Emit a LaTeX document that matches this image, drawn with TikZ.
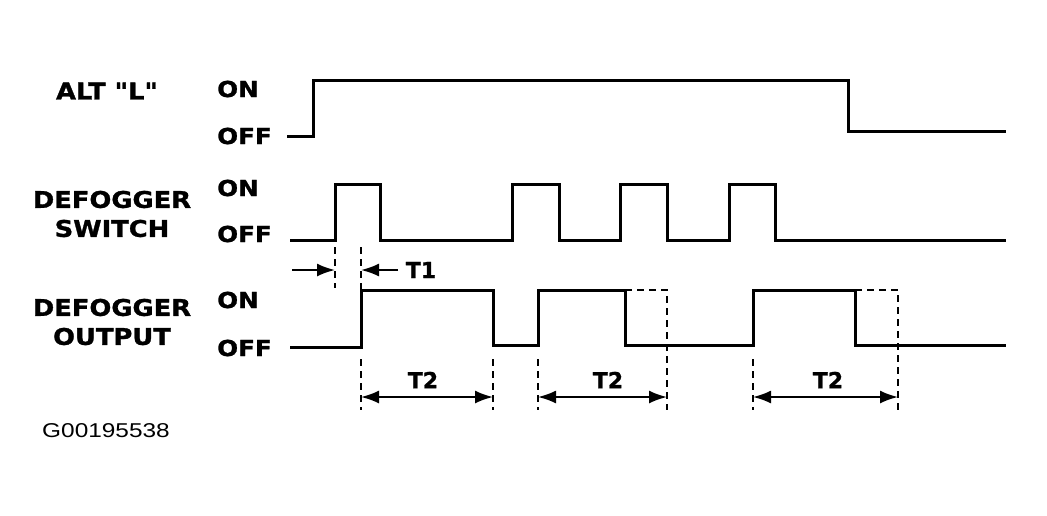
\documentclass[tikz,border=0pt]{standalone}
\usepackage{fontspec}
\usetikzlibrary{arrows.meta, positioning}
\newfontfamily\namefont[FakeStretch=1.12, FakeBold=1.2]{DejaVu Sans Bold}
\newfontfamily\markfont[FakeBold=1.2]{DejaVu Sans Bold}
\newfontfamily\codefont[FakeStretch=1.22]{Liberation Sans}
\tikzset{
    signame/.style={
        inner sep=0pt, align=center,
        font=\namefont\fontsize{23}{29}\selectfont
    },
    level/.style={
        inner sep=0pt, anchor=west,
        font=\namefont\fontsize{22}{24}\selectfont
    },
    timelabel/.style={inner sep=0pt, font=\markfont\fontsize{22}{24}\selectfont},
    wave/.style={line width=3pt, line join=miter},
    guide/.style={line width=1.6pt, dash pattern=on 7pt off 5pt},
    dimarrow/.style={line width=2pt, {Latex[length=18pt,width=13pt]}-{Latex[length=18pt,width=13pt]}},
    onearrow/.style={line width=2pt, -{Latex[length=18pt,width=13pt]}}
}
\begin{document}
\begin{tikzpicture}[x=1pt, y=-1pt]
    \useasboundingbox (0,0) rectangle (1047,515);

    % signal names and levels
    \node[signame] (alt) at (107,91) {ALT "L"};
    \node[signame] (sw) at (112,214) {DEFOGGER\\SWITCH};
    \node[signame] (out) at (112,322) {DEFOGGER\\OUTPUT};
    \node[level] (alt-on) at (217,89) {ON};
    \node[level] (alt-off) at (217,136) {OFF};
    \node[level] (sw-on) at (217,188) {ON};
    \node[level] (sw-off) at (217,234) {OFF};
    \node[level] (out-on) at (217,300) {ON};
    \node[level] (out-off) at (217,348) {OFF};

    % waveforms
    \draw[wave] (287,136) -| (313,80) -| (848,131) -- (1006,131);
    \draw[wave] (290,240) -| (335,184) -| (380,240) -| (512,184) -| (559,240)
        -| (620,184) -| (667,240) -| (729,184) -| (775,240) -- (1006,240);
    \draw[wave] (290,347) -| (361,290) -| (493,345) -| (538,290) -| (625,345)
        -| (753,290) -| (855,345) -- (1006,345);

    % timer extensions
    \draw[guide] (625,290) -- (667,290) -- (667,410);
    \draw[guide] (855,290) -- (898,290) -- (898,410);

    % T1
    \draw[guide] (335,247) -- (335,288);
    \draw[guide] (361,247) -- (361,290);
    \coordinate (t1-l) at (335,270);
    \coordinate (t1-r) at (361,270);
    \coordinate (t1-a) at (292,270);
    \coordinate (t1-b) at (398,270);
    \draw[onearrow] (t1-a) -- (t1-l);
    \draw[onearrow] (t1-b) -- (t1-r);
    \node[timelabel] (t1) at (421,270) {T1};

    % T2
    \foreach \x in {361,493,538,753} {
        \draw[guide] (\x,359) -- (\x,410);
    }
    \coordinate (t2a-l) at (361,397);
    \coordinate (t2a-r) at (493,397);
    \coordinate (t2b-l) at (538,397);
    \coordinate (t2b-r) at (667,397);
    \coordinate (t2c-l) at (753,397);
    \coordinate (t2c-r) at (898,397);
    \draw[dimarrow] (t2a-l) -- (t2a-r);
    \draw[dimarrow] (t2b-l) -- (t2b-r);
    \draw[dimarrow] (t2c-l) -- (t2c-r);
    \node[timelabel] (t2a) at (423,380) {T2};
    \node[timelabel] (t2b) at (608,380) {T2};
    \node[timelabel] (t2c) at (828,380) {T2};

    \node[inner sep=0pt, anchor=west, font=\codefont\fontsize{20}{22}\selectfont] (code) at (42,431) {G00195538};
\end{tikzpicture}
\end{document}
